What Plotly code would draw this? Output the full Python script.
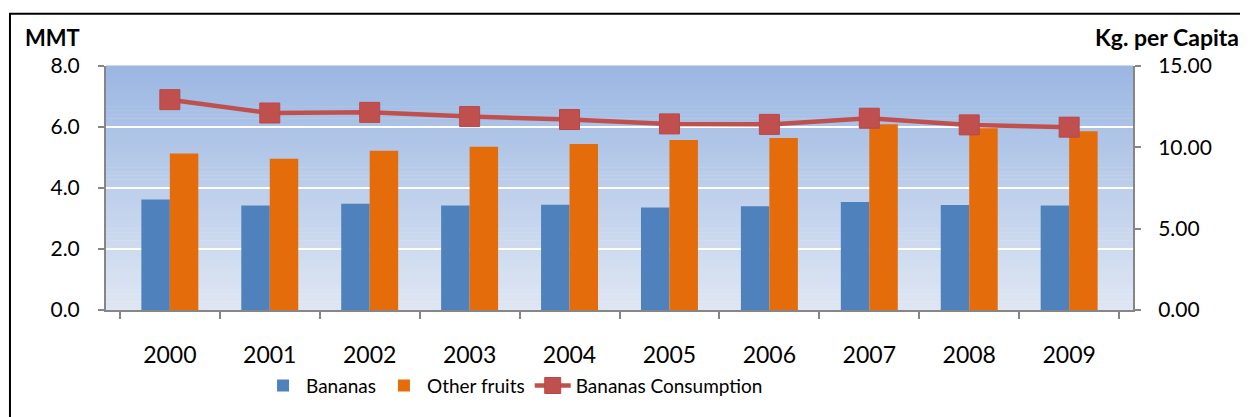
import plotly.graph_objects as go

years = ["2000", "2001", "2002", "2003", "2004", "2005", "2006", "2007", "2008", "2009"]
bananas = [3.62, 3.43, 3.48, 3.43, 3.45, 3.36, 3.40, 3.54, 3.44, 3.43]
other_fruits = [5.13, 4.96, 5.22, 5.35, 5.44, 5.57, 5.64, 6.09, 5.96, 5.86]
consumption = [12.93, 12.11, 12.15, 11.89, 11.71, 11.44, 11.41, 11.79, 11.38, 11.24]

FONT = "Lato"
AXIS_GREY = "#868686"

fig = go.Figure()

fig.add_trace(go.Bar(x=years, y=bananas, name="Bananas",
                     marker=dict(color="#4F81BD", line=dict(width=0))))
fig.add_trace(go.Bar(x=years, y=other_fruits, name="Other fruits",
                     marker=dict(color="#E46C0A", line=dict(width=0))))
fig.add_trace(go.Scatter(x=years, y=consumption, name="Bananas Consumption",
                         yaxis="y2", mode="lines+markers",
                         line=dict(color="#C0504D", width=4.5),
                         marker=dict(symbol="square", size=20, color="#C0504D",
                                     line=dict(color="#B9474A", width=1))))

# vertical gradient for the plot background, built from thin bands
top = (155, 183, 226)
bottom = (222, 230, 243)
n = 60
shapes = []
for i in range(n):
    t = i / (n - 1)
    c = tuple(round(top[k] + (bottom[k] - top[k]) * t) for k in range(3))
    shapes.append(dict(type="rect", xref="paper", yref="paper",
                       x0=0, x1=1, y0=1 - (i + 1) / n, y1=1 - i / n + 0.002,
                       fillcolor="rgb(%d,%d,%d)" % c, line=dict(width=0),
                       layer="below"))

# outer chart frame
shapes.append(dict(type="rect", xref="paper", yref="paper",
                   x0=-0.0935, x1=1.2, y0=-0.5, y1=1.214,
                   line=dict(color="black", width=2), fillcolor="rgba(0,0,0,0)",
                   layer="above"))

# page body has an 8px margin, so the figure is shrunk and shifted by it
fig.update_layout(
    width=1240, height=409,
    margin=dict(l=98, r=115, t=58, b=101),
    paper_bgcolor="white",
    plot_bgcolor="rgba(0,0,0,0)",
    font=dict(family=FONT, size=21, color="black"),
    barmode="group",
    bargap=0.43,
    bargroupgap=0,
    shapes=shapes,
    showlegend=True,
    legend=dict(orientation="h", x=0.150, xanchor="left", y=-0.31, yanchor="middle",
                font=dict(family=FONT, size=19), itemwidth=36,
                bgcolor="rgba(0,0,0,0)", traceorder="normal"),
    xaxis=dict(type="category", showline=True, linecolor=AXIS_GREY, linewidth=2,
               ticks="outside", tickson="boundaries", ticklen=7, tickcolor=AXIS_GREY,
               tickwidth=2, showgrid=False, tickfont=dict(size=23),
               ticklabelstandoff=23, automargin=False),
    yaxis=dict(range=[0, 8], dtick=2, tickformat=".1f", showline=True,
               linecolor=AXIS_GREY, linewidth=2, ticks="outside", ticklen=6,
               tickcolor=AXIS_GREY, tickwidth=2, showgrid=True, gridcolor="white",
               gridwidth=2, zeroline=False, tickfont=dict(size=21),
               ticklabelstandoff=14, automargin=False),
    yaxis2=dict(range=[0, 15], dtick=5, tickformat=".2f", overlaying="y", side="right",
                showline=True, linecolor=AXIS_GREY, linewidth=2, ticks="outside",
                ticklen=6, tickcolor=AXIS_GREY, tickwidth=2, showgrid=False,
                zeroline=False, tickfont=dict(size=21), ticklabelstandoff=13,
                automargin=False),
    annotations=[
        dict(text="<b>MMT</b>", xref="paper", yref="paper", x=-0.081, y=1.055,
             xanchor="left", yanchor="bottom", showarrow=False,
             font=dict(family=FONT, size=22)),
        dict(text="<b>Kg. per Capita</b>", xref="paper", yref="paper", x=1.105, y=1.055,
             xanchor="right", yanchor="bottom", showarrow=False,
             font=dict(family=FONT, size=23)),
    ],
)

fig.write_html("out.html")
